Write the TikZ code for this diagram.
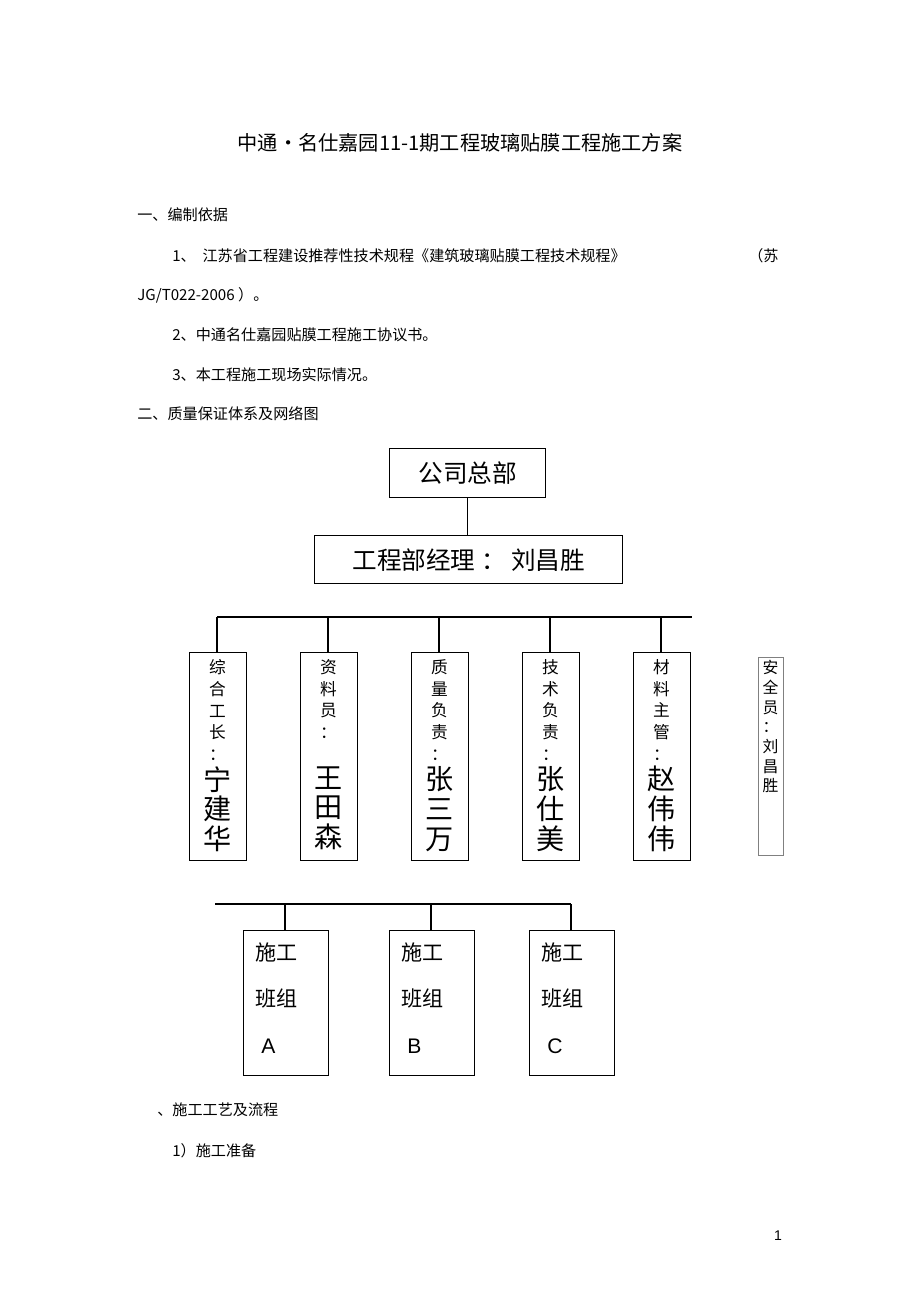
\documentclass[tikz,border=0pt]{standalone}
\usepackage{fontspec}
\setmainfont{Liberation Sans}
\newfontfamily\cjk{Noto Sans CJK SC}
\usetikzlibrary{positioning}

\begin{document}
\begin{tikzpicture}[x=0.02cm,y=-0.02cm]
      \tikzstyle{body}=[anchor=west,inner sep=0,font=\cjk\fontsize{8.6}{10}\selectfont]
      \tikzstyle{unit}=[draw,thick,inner sep=0,anchor=north west]
      \tikzstyle{link}=[thick,draw]
      \useasboundingbox (0,0) rectangle (920,1303);
      % Page texts
      \node (title) at (460,143) [font=\cjk\fontsize{11.5}{13}\selectfont] {中通•名仕嘉园11-1期工程玻璃贴膜工程施工方案};
      \node (sec1) at (137,215) [body] {一、编制依据};
      \node (item1) at (172,256) [body] {1、\ \ 江苏省工程建设推荐性技术规程《建筑玻璃贴膜工程技术规程》};
      \node (su) at (748,256) [body] {（苏};
      \node (code) at (137,295) [body] {JG/T022-2006 ）。};
      \node (item2) at (172,335) [body] {2、中通名仕嘉园贴膜工程施工协议书。};
      \node (item3) at (172,375) [body] {3、本工程施工现场实际情况。};
      \node (sec2) at (137,414) [body] {二、质量保证体系及网络图};
      \node (sec3) at (157,1110) [body] {、施工工艺及流程};
      \node (prep) at (172,1151) [body] {1）施工准备};
      \node (page) at (778,1236) [font=\fontsize{8}{9}\selectfont] {1};
      % Top of chart
      \node (hq) at (389,448) [unit,minimum width=156*0.02cm,minimum height=49*0.02cm] {};
      \node at (hq.center) [font=\cjk\fontsize{14}{16}\selectfont] {公司总部};
      \node (pm) at (314,535) [unit,minimum width=308*0.02cm,minimum height=48*0.02cm] {};
      \node at (pm.center) [font=\cjk\fontsize{14}{16}\selectfont] {工程部经理\ ：\ 刘昌胜};
      \draw [link] (hq.south) -- (hq.south |- pm.north);
      % Staff boxes
      \coordinate (barL) at (217,617);
      \coordinate (barR) at (692,617);
      \draw [link] (barL) -- (barR);
      \foreach \i/\x/\role/\who in {1/189/{综\\合\\工\\长}/{宁\\建\\华},2/300/{资\\料\\员}/{王\\田\\森},
          3/411/{质\\量\\负\\责}/{张\\三\\万},4/522/{技\\术\\负\\责}/{张\\仕\\美},5/633/{材\\料\\主\\管}/{赵\\伟\\伟}} {
        \node (staff\i) at (\x,652) [unit,minimum width=57*0.02cm,minimum height=208*0.02cm] {};
        \draw [link] (\x+28,652) -- (\x+28,617);
        \node (role\i) at (\x+28.5,659) [anchor=north,inner sep=0,align=center,
          font=\cjk\fontsize{9.5}{12.4}\selectfont] {\role\\：};
        \node (who\i) at (\x+28.5,766) [anchor=north,inner sep=0,align=center,
          font=\cjk\fontsize{16}{17}\selectfont] {\who};
      }
      \node (safety) at (758,657) [draw=gray,inner sep=0,anchor=north west,minimum width=25*0.02cm,minimum height=198*0.02cm] {};
      \node at (770.5,660) [anchor=north,inner sep=0,align=center,
        font=\cjk\fontsize{9}{11.2}\selectfont] {安\\全\\员\\：\\刘\\昌\\胜};
      % Work teams
      \coordinate (teamL) at (215,904);
      \coordinate (teamR) at (571,904);
      \draw [link] (teamL) -- (teamR);
      \foreach \i/\x/\tag/\cx in {1/243/A/285,2/389/B/431,3/529/C/571} {
        \node (team\i) at (\x,930) [unit,minimum width=85*0.02cm,minimum height=145*0.02cm] {};
        \draw [link] (\cx,930) -- (\cx,904);
        \node at (\x+12,952) [anchor=west,inner sep=0,font=\cjk\fontsize{12}{14}\selectfont] {施工};
        \node at (\x+12,998) [anchor=west,inner sep=0,font=\cjk\fontsize{12}{14}\selectfont] {班组};
        \node at (\x+18,1046) [anchor=west,inner sep=0,font=\fontsize{12}{14}\selectfont] {\tag};
      }
\end{tikzpicture}
\end{document}
